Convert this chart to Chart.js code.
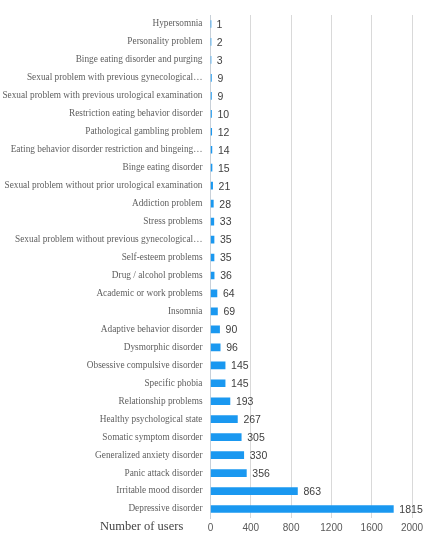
<!DOCTYPE html>
<html>
<head>
<meta charset="utf-8">
<script src="https://cdn.jsdelivr.net/npm/chart.js@4"></script>
<style>
    html, body { margin: 0; padding: 0; background: #ffffff; }
    #wrap { width: 428px; height: 535px; position: relative; }
</style>
</head>
<body>
<div id="wrap"><canvas id="barChart"></canvas></div>
<script>
// data, top row first
const categories = [
    'Hypersomnia',
    'Personality problem',
    'Binge eating disorder and purging',
    'Sexual problem with previous gynecological…',
    'Sexual problem with previous urological examination',
    'Restriction eating behavior disorder',
    'Pathological gambling problem',
    'Eating behavior disorder restriction and bingeing…',
    'Binge eating disorder',
    'Sexual problem without prior urological examination',
    'Addiction problem',
    'Stress problems',
    'Sexual problem without previous gynecological…',
    'Self-esteem problems',
    'Drug / alcohol problems',
    'Academic or work problems',
    'Insomnia',
    'Adaptive behavior disorder',
    'Dysmorphic disorder',
    'Obsessive compulsive disorder',
    'Specific phobia',
    'Relationship problems',
    'Healthy psychological state',
    'Somatic symptom disorder',
    'Generalized anxiety disorder',
    'Panic attack disorder',
    'Irritable mood disorder',
    'Depressive disorder'
];
const userCounts = [1, 2, 3, 9, 9, 10, 12, 14, 15, 21, 28, 33, 35, 35, 36, 64, 69, 90, 96, 145, 145, 193, 267, 305, 330, 356, 863, 1815];
const xTicks = [0, 400, 800, 1200, 1600, 2000];
const axisTitle = 'Number of users';

// Draw value labels next to each bar and the axis title at bottom left
const valueLabels = {
    id: 'valueLabels',
    afterDatasetsDraw(chart) {
        const ctx = chart.ctx;
        const meta = chart.getDatasetMeta(0);
        ctx.save();
        ctx.font = '10.5px "Liberation Sans", Arial, sans-serif';
        ctx.fillStyle = '#404040';
        ctx.textAlign = 'left';
        ctx.textBaseline = 'middle';
        meta.data.forEach((bar, i) => {
            ctx.fillText(String(userCounts[i]), bar.x + 6, bar.y + 1);
        });
        // axis title
        ctx.font = '12.5px "Liberation Serif", "Times New Roman", serif';
        ctx.fillStyle = '#444444';
        ctx.textAlign = 'left';
        ctx.fillText(axisTitle, 100, chart.chartArea.bottom + 9);
        ctx.restore();
    }
};

const barChartCanvas = document.getElementById('barChart');
new Chart(barChartCanvas, {
    type: 'bar',
    data: {
        labels: categories,
        datasets: [{
            data: userCounts,
            backgroundColor: '#1a98f0',
            barThickness: 7
        }]
    },
    options: {
        indexAxis: 'y',
        responsive: true,
        maintainAspectRatio: false,
        animation: false,
        layout: { padding: { top: 15, right: 16, left: 0, bottom: 0 } },
        plugins: {
            legend: { display: false },
            tooltip: { enabled: false }
        },
        scales: {
            x: {
                min: 0,
                max: 2000,
                afterBuildTicks: scale => {
                    scale.ticks = xTicks.map(v => ({ value: v }));
                },
                afterFit: scale => { scale.height = 17; },
                grid: { color: '#d9d9d9', drawTicks: false, lineWidth: 1 },
                border: { display: false },
                ticks: {
                    padding: 4,
                    color: '#595959',
                    callback: value => String(value),
                    font: { family: '"Liberation Sans", Arial, sans-serif', size: 10 }
                }
            },
            y: {
                afterFit: scale => { scale.width = 210.5; },
                grid: { display: false, drawTicks: false },
                border: { display: true, color: '#c8d0d8', width: 1 },
                ticks: {
                    padding: 8,
                    autoSkip: false,
                    color: '#5f5f5f',
                    font: { family: '"Liberation Serif", "Times New Roman", serif', size: 9.3 }
                }
            }
        }
    },
    plugins: [valueLabels]
});
</script>
</body>
</html>
